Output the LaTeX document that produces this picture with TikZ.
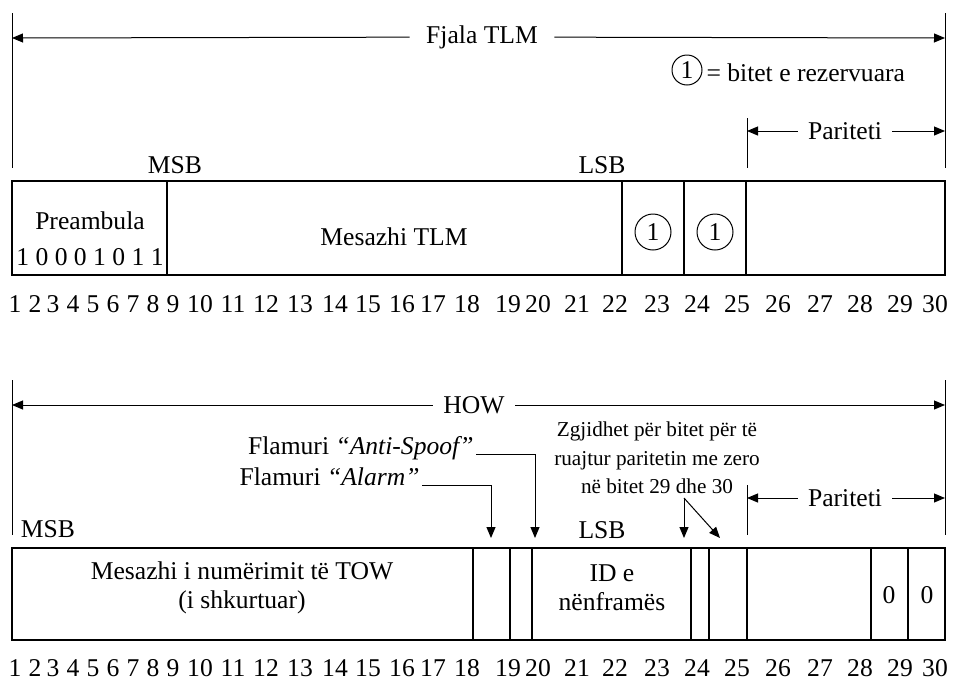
\documentclass[tikz,border=0pt]{standalone}
\usepackage{fontspec}
\setmainfont{Liberation Serif}
\usetikzlibrary{arrows.meta,positioning}

\tikzset{
  field/.style={draw, line width=0.6pt},
  rez/.style={circle, draw, line width=0.5pt, inner sep=0pt, minimum size=18pt},
  dimlabel/.style={inner xsep=5pt, inner ysep=1pt},
  small/.style={font=\fontsize{10.6}{14.2}\selectfont}
}

\begin{document}
\begin{tikzpicture}[x=0.5pt, y=-0.5pt, >={Triangle[length=5.5pt,width=4.5pt]},
    font=\fontsize{12.8}{14.5}\selectfont, line width=0.5pt]
  \useasboundingbox (0,0) rectangle (955,681);

  % Fjala TLM extent
  \draw (12,13) -- (12,168);
  \draw (945,13) -- (945,168);
  \node[dimlabel, inner xsep=8pt] (fjala) at (482,37) {Fjala TLM};
  \coordinate (fjalaL) at (12,38);
  \coordinate (fjalaR) at (945,38);
  \draw[->] (fjala) -- (fjalaL);
  \draw[->] (fjala) -- (fjalaR);

  % legend
  \node[rez, minimum size=15pt] (leg) at (687,70) {1};
  \node[anchor=west, inner sep=1pt] (legtxt) at (704,73) {= bitet e rezervuara};

  % Pariteti (TLM)
  \draw (747,118) -- (747,168);
  \node[dimlabel] (par1) at (845,131) {Pariteti};
  \coordinate (par1L) at (747,131);
  \coordinate (par1R) at (945,131);
  \draw[->] (par1) -- (par1L);
  \draw[->] (par1) -- (par1R);

  \node (msb1) at (175,165) {MSB};
  \node (lsb1) at (602,165) {LSB};

  % TLM word fields
  \draw[field] (12,181) rectangle (945,275);
  \foreach \x in {167,622,684,746} \draw[field] (\x,181) -- (\x,275);
  \node (pre) at (90,221) {Preambula};
  \node (prebits) at (90,257) {1 0 0 0 1 0 1 1};
  \node (mesTLM) at (394,237) {Mesazhi TLM};
  \node[rez] (r23) at (653,232) {1};
  \node[rez] (r24) at (715,232) {1};

  % bit numbers
  \foreach \n/\x in {1/15,2/35,3/53,4/73,5/93,6/113,7/133,8/153,9/173,10/200,
      11/233,12/266,13/300,14/335,15/368,16/402,17/433,18/467,19/508,20/538,
      21/577,22/615,23/657,24/697,25/737,26/778,27/820,28/860,29/900,30/935}{
    \node (top\n) at (\x,304) {\n};
    \node (bot\n) at (\x,668) {\n};
  }

  % HOW extent
  \draw (12,380) -- (12,535);
  \draw (945,380) -- (945,535);
  \node[dimlabel] (how) at (474,405) {HOW};
  \coordinate (howL) at (12,405);
  \coordinate (howR) at (945,405);
  \draw[->] (how) -- (howL);
  \draw[->] (how) -- (howR);

  % flags
  \node[anchor=base east, inner sep=1pt] (spoof) at (476,454) {Flamuri \textit{“Anti-Spoof”}};
  \node[anchor=base east, inner sep=1pt] (alarm) at (422,485) {Flamuri \textit{“Alarm”}};
  \coordinate (spoofTip) at (535,538);
  \coordinate (alarmTip) at (491,538);
  \draw[->] (spoof.base east) -| (spoofTip);
  \draw[->] (alarm.base east) -| (alarmTip);

  % bits solved for parity
  \node[small, align=center] (zgj) at (657,458) {Zgjidhet për bitet për të\\ruajtur paritetin me zero\\në bitet 29 dhe 30};
  \coordinate (zgjFrom) at (684,498);
  \coordinate (zgjTip1) at (684,538);
  \coordinate (zgjTip2) at (720,538);
  \draw[->] (zgjFrom) -- (zgjTip1);
  \draw[->] (zgjFrom) -- (zgjTip2);

  % Pariteti (HOW)
  \draw (747,485) -- (747,535);
  \node[dimlabel] (par2) at (845,498) {Pariteti};
  \coordinate (par2L) at (747,498);
  \coordinate (par2R) at (945,498);
  \draw[->] (par2) -- (par2L);
  \draw[->] (par2) -- (par2R);

  \node (msb2) at (48,529) {MSB};
  \node (lsb2) at (602,530) {LSB};

  % HOW fields
  \draw[field] (12,548) rectangle (945,640);
  \foreach \x in {473,510,532,691,709,747,871,908} \draw[field] (\x,548) -- (\x,640);
  \node[align=center] (tow) at (242,588) {Mesazhi i numërimit të TOW\\(i shkurtuar)};
  \node[align=center] (sfid) at (612,588) {ID e\\nënframës};
  \node (zero29) at (889,595) {0};
  \node (zero30) at (927,595) {0};
\end{tikzpicture}
\end{document}
